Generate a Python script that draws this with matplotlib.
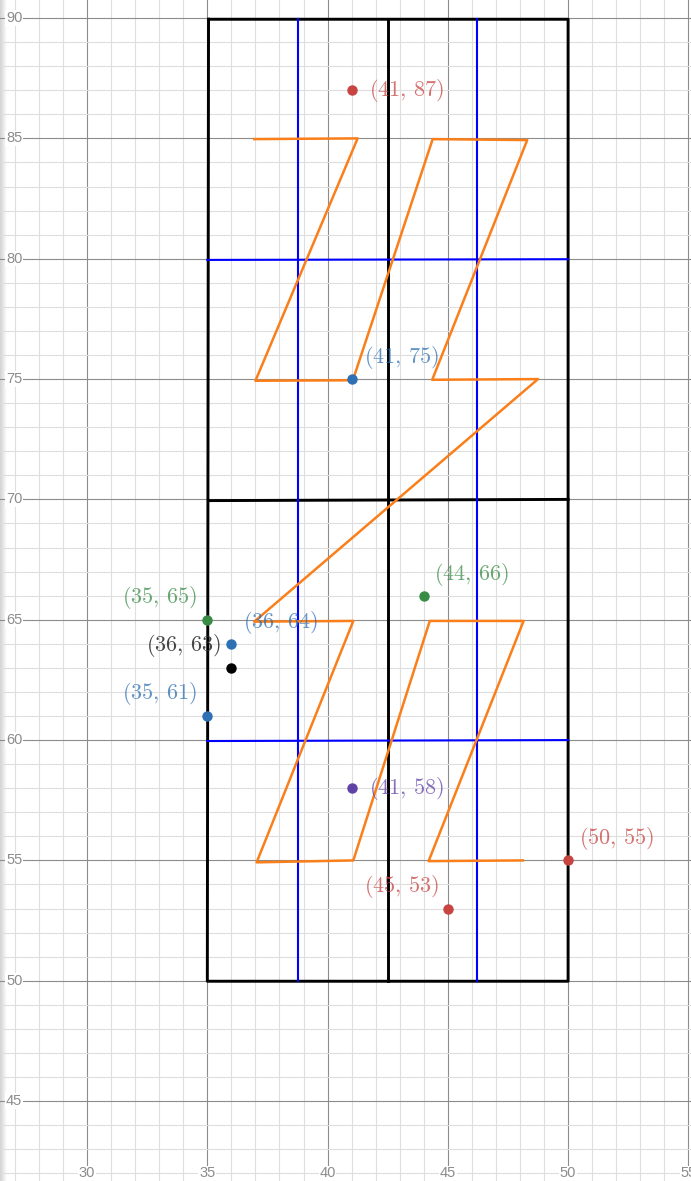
import numpy as np
import matplotlib
matplotlib.use('Agg')
import matplotlib.pyplot as plt

plt.rcParams['mathtext.fontset'] = 'cm'

# 點資料
point_x = [41, 41, 44, 35, 36, 36, 35, 41, 50, 45]
point_y = [87, 75, 66, 65, 64, 63, 61, 58, 55, 53]
point_labels = ['(%d,\\,%d)' % (a, b) for a, b in zip(point_x, point_y)]
point_colors = ['#c74440', '#2d70b3', '#388c46', '#388c46', '#2d70b3',
                '#000000', '#2d70b3', '#6042a6', '#c74440', '#c74440']
# 標籤偏移 (px)
label_dx = [17, 12, 10, -10, 12, -10, -10, 17, 11, -9]
label_dy = [0, 22, 21, 22, 21, 22, 23, 0, 22, 22]

# 橘色折線 (Z 字)
orange_x = [36.95, 41.25, 37.0, 41.05, 44.37, 48.3, 44.35, 48.75,
            36.95, 41.07, 37.05, 41.07, 44.25, 48.15, 44.2, 48.12]
orange_y = [84.97, 85.0, 74.93, 74.95, 84.97, 84.93, 74.97, 75.0,
            64.92, 64.95, 54.92, 55.0, 64.95, 64.95, 54.97, 55.0]

# 黑色框線
rect_x = [35.05, 50.0, 50.0, 35.0, 35.05]
rect_y = [89.95, 89.95, 49.98, 49.98, 89.95]
mid_h_x = [35.05, 50.0]
mid_h_y = [69.95, 70.0]
mid_v_x = [42.5, 42.5]
mid_v_y = [89.95, 49.98]

# 藍色格線
blue_v = [38.76, 46.2]
blue_v_y = [89.95, 49.98]
blue_h_x = [35.0, 50.0]
blue_h_y = [[79.95, 79.98], [59.96, 60.0]]

x_ticks = [30, 35, 40, 45, 50, 55]
y_ticks = [45, 50, 55, 60, 65, 70, 75, 80, 85, 90]

W, H = 691, 1181
fig = plt.figure(figsize=(W / 100, H / 100), dpi=100)

# 左邊陰影 (畫在底下)
sh = fig.add_axes([0, 0, 7 / W, 1])
grad = np.linspace(0.82, 1.0, 50).reshape(1, -1)
sh.imshow(grad, cmap='gray', vmin=0, vmax=1, aspect='auto', extent=[0, 1, 0, 1])
sh.axis('off')
sh.set_zorder(-1)

ax = fig.add_axes([0, 0, 1, 1])
xmin, xmax = 26.38, 55.11
ymin, ymax = 41.68, 90.75
ax.set_xlim(xmin, xmax)
ax.set_ylim(ymin, ymax)
ax.axis('off')

# 網格
for v in range(27, 56):
    c = '#8c8c8c' if v % 5 == 0 else '#dedede'
    ax.axvline(v, color=c, lw=0.8, zorder=0)
for v in range(42, 91):
    c = '#8c8c8c' if v % 5 == 0 else '#dedede'
    ax.axhline(v, color=c, lw=0.8, zorder=0)

# 線條
ax.plot(rect_x, rect_y, color='black', lw=2.1, zorder=2)
ax.plot(mid_h_x, mid_h_y, color='black', lw=2.1, zorder=2)
ax.plot(mid_v_x, mid_v_y, color='black', lw=2.1, zorder=2)
for xv in blue_v:
    ax.plot([xv, xv], blue_v_y, color='#0000ff', lw=1.5, zorder=3)
for yy in blue_h_y:
    ax.plot(blue_h_x, yy, color='#0000ff', lw=1.5, zorder=3)
ax.plot(orange_x, orange_y, color='#fa7e19', lw=1.8, zorder=4)

# 點和標籤
for x, y, lab, c, dx, dy in zip(point_x, point_y, point_labels, point_colors, label_dx, label_dy):
    ax.plot(x, y, 'o', color=c, ms=6.5, zorder=6)
    ha = 'left' if dx > 0 else 'right'
    lc = '#333333' if c == '#000000' else c
    ax.annotate('$' + lab + '$', (x, y), xytext=(dx * 0.72, dy * 0.72),
                textcoords='offset points', ha=ha, va='center',
                fontsize=16, color=lc, alpha=0.75 if c != '#000000' else 0.9, zorder=5)

# 刻度標籤
for t in x_ticks:
    ax.text(t, ymin + 0.32, str(t), ha='center', va='center', fontsize=10.5,
            color='#8c8c8c', family='Liberation Sans', zorder=1,
            bbox=dict(facecolor='white', edgecolor='none', pad=0.5))
for t in y_ticks:
    ax.text(xmin + 0.25, t, str(t), ha='left', va='center', fontsize=10.5,
            color='#8c8c8c', family='Liberation Sans', zorder=1,
            bbox=dict(facecolor='white', edgecolor='none', pad=0.5))

fig.savefig('out.png', dpi=100)
